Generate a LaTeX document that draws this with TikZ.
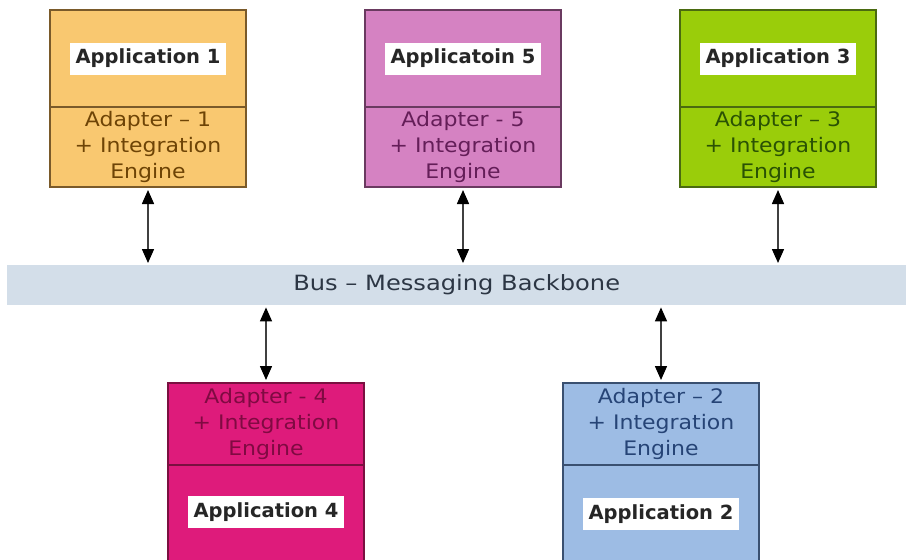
\documentclass[tikz,border=0pt]{standalone}
\usepackage{fontspec}
\setmainfont{DejaVu Sans}
\newfontfamily\adfont[FakeStretch=1.1]{DejaVu Sans}
\newfontfamily\busfont[FakeStretch=1.15]{DejaVu Sans}
\usetikzlibrary{arrows.meta}

\definecolor{fillA}{HTML}{F9C870}\definecolor{lineA}{HTML}{7A5A2A}\definecolor{textA}{HTML}{6E4406}
\definecolor{fillE}{HTML}{D582C2}\definecolor{lineE}{HTML}{6A3A60}\definecolor{textE}{HTML}{641E58}
\definecolor{fillC}{HTML}{9ACD0A}\definecolor{lineC}{HTML}{4A6A10}\definecolor{textC}{HTML}{2A5204}
\definecolor{fillD}{HTML}{DE1B7B}\definecolor{lineD}{HTML}{7A1040}\definecolor{textD}{HTML}{800A42}
\definecolor{fillB}{HTML}{9DBCE4}\definecolor{lineB}{HTML}{3A5070}\definecolor{textB}{HTML}{264476}
\definecolor{busfill}{HTML}{D3DEE9}\definecolor{bustext}{HTML}{2C3644}

\tikzset{
  part/.style 2 args={draw=#2, fill=#1, line width=1.4pt, minimum width=196pt,
    inner sep=0pt, outer sep=0pt, anchor=north west},
  appbox/.style 2 args={part={#1}{#2}, minimum height=97pt},
  lowappbox/.style 2 args={part={#1}{#2}, minimum height=100pt},
  adbox/.style n args={3}{part={#1}{#2}, minimum height=80pt, text=#3, align=center,
    font=\adfont\fontsize{20}{26}\selectfont},
  lowadbox/.style n args={3}{adbox={#1}{#2}{#3}, minimum height=82pt},
  applabel/.style={fill=white, text=black!85, inner xsep=6pt, inner ysep=0pt,
    minimum height=32pt, font=\bfseries\fontsize{19.5}{22}\selectfont},
  link/.style={line width=1.5pt, draw=black!75,
    {Triangle[length=14pt,width=12pt,color=black]}-{Triangle[length=14pt,width=12pt,color=black]},
    shorten <=3pt, shorten >=2pt}
}

\begin{document}
\begin{tikzpicture}[x=1pt, y=-1pt]
  \clip (0,0) rectangle (906,560);
  \fill[white] (0,0) rectangle (906,560);

  % messaging bus
  \node[fill=busfill, minimum width=899pt, minimum height=40pt, inner sep=0pt,
        anchor=north west, text=bustext, font=\busfont\fontsize{21}{24}\selectfont]
        (bus) at (7,265) {Bus – Messaging Backbone};

  % upper row: application on top, adapter below
  \node[appbox={fillA}{lineA}] (app1) at (50,10) {};
  \node[adbox={fillA}{lineA}{textA}] (ad1) at (50,107) {Adapter – 1\\+ Integration\\Engine};
  \node[applabel] (lab1) at (app1.center) {Application 1};

  \node[appbox={fillE}{lineE}] (app5) at (365,10) {};
  \node[adbox={fillE}{lineE}{textE}] (ad5) at (365,107) {Adapter - 5\\+ Integration\\Engine};
  \node[applabel] (lab5) at (app5.center) {Applicatoin 5};

  \node[appbox={fillC}{lineC}] (app3) at (680,10) {};
  \node[adbox={fillC}{lineC}{textC}] (ad3) at (680,107) {Adapter – 3\\+ Integration\\Engine};
  \node[applabel] (lab3) at (app3.center) {Application 3};

  % lower row: adapter on top, application below
  \node[lowadbox={fillD}{lineD}{textD}] (ad4) at (168,383) {Adapter - 4\\+ Integration\\Engine};
  \node[lowappbox={fillD}{lineD}] (app4) at (168,465) {};
  \node[applabel] (lab4) at ([yshift=3pt]app4.center) {Application 4};

  \node[lowadbox={fillB}{lineB}{textB}] (ad2) at (563,383) {Adapter – 2\\+ Integration\\Engine};
  \node[lowappbox={fillB}{lineB}] (app2) at (563,465) {};
  \node[applabel] (lab2) at ([yshift=1pt]app2.center) {Application 2};

  % connections to the bus
  \draw[link] (ad1.south) -- (ad1.south |- bus.north);
  \draw[link] (ad5.south) -- (ad5.south |- bus.north);
  \draw[link] (ad3.south) -- (ad3.south |- bus.north);
  \draw[link] (ad4.north) -- (ad4.north |- bus.south);
  \draw[link] (ad2.north) -- (ad2.north |- bus.south);
\end{tikzpicture}
\end{document}
